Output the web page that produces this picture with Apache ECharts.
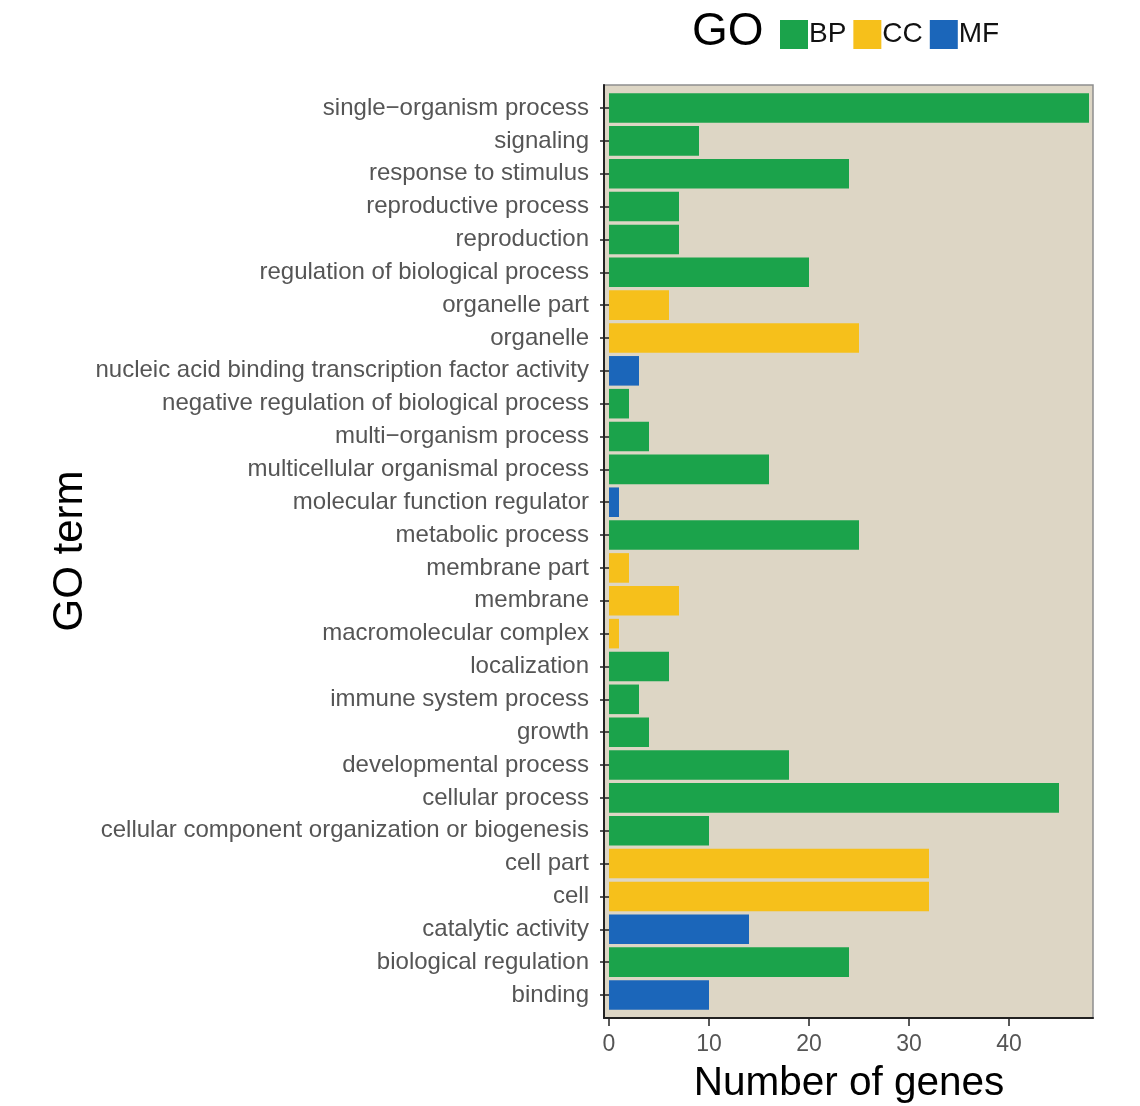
<!DOCTYPE html>
<html>
<head>
<meta charset="utf-8">
<script src="https://cdn.jsdelivr.net/npm/echarts@6/dist/echarts.min.js"></script>
<style>
  html, body { margin: 0; padding: 0; background: #ffffff; }
  #chart { width: 1140px; height: 1106px; }
</style>
</head>
<body>
<div id="chart"></div>
<script>
// GO terms listed top to bottom as they appear on the chart
const terms = [
  'single\u2212organism process',
  'signaling',
  'response to stimulus',
  'reproductive process',
  'reproduction',
  'regulation of biological process',
  'organelle part',
  'organelle',
  'nucleic acid binding transcription factor activity',
  'negative regulation of biological process',
  'multi\u2212organism process',
  'multicellular organismal process',
  'molecular function regulator',
  'metabolic process',
  'membrane part',
  'membrane',
  'macromolecular complex',
  'localization',
  'immune system process',
  'growth',
  'developmental process',
  'cellular process',
  'cellular component organization or biogenesis',
  'cell part',
  'cell',
  'catalytic activity',
  'biological regulation',
  'binding'
];

// Number of genes per term
const geneCounts = [48, 9, 24, 7, 7, 20, 6, 25, 3, 2, 4, 16, 1, 25, 2, 7, 1, 6, 3, 4, 18, 45, 10, 32, 32, 14, 24, 10];

// GO category of each term
const termGroups = ['BP', 'BP', 'BP', 'BP', 'BP', 'BP', 'CC', 'CC', 'MF', 'BP', 'BP', 'BP', 'MF', 'BP',
                    'CC', 'CC', 'CC', 'BP', 'BP', 'BP', 'BP', 'BP', 'BP', 'CC', 'CC', 'MF', 'BP', 'MF'];

const groups = ['BP', 'CC', 'MF'];
const groupColors = { BP: '#1ba34b', CC: '#f6c01b', MF: '#1b66ba' };

// x axis tick values
const xTicks = [0, 10, 20, 30, 40];

const labelFont = 'Liberation Sans, Arial, Helvetica, sans-serif';

const series = groups.map(g => ({
  name: g,
  type: 'bar',
  stack: 'go',
  xAxisIndex: 1,
  yAxisIndex: 1,
  barWidth: '90%',
  itemStyle: { color: groupColors[g] },
  data: geneCounts.map((v, i) => termGroups[i] === g ? v : null)
}));

const chart = echarts.init(document.getElementById('chart'), null, { renderer: 'canvas' });

chart.setOption({
  animation: false,
  backgroundColor: '#ffffff',
  textStyle: { fontFamily: labelFont },
  grid: [
    // panel
    { left: 604, top: 85, width: 489, height: 933, show: true,
      backgroundColor: '#ddd6c5', borderColor: '#8e8e8e', borderWidth: 1.5 },
    // bars
    { left: 609, top: 91.6, width: 484, height: 919.8 }
  ],
  xAxis: [
    { gridIndex: 0, type: 'value', min: 0, max: 1,
      axisLine: { show: true, onZero: false, lineStyle: { color: '#222', width: 2 } },
      axisTick: { show: false }, axisLabel: { show: false }, splitLine: { show: false } },
    { gridIndex: 1, type: 'value', min: 0, max: 48.4, offset: 6.6,
      axisLine: { show: false },
      axisTick: { show: true, length: 8, customValues: xTicks, lineStyle: { color: '#222', width: 1.5 } },
      axisLabel: { show: true, customValues: xTicks, fontSize: 23, color: '#555', margin: 15,
                   fontFamily: labelFont },
      splitLine: { show: false } }
  ],
  yAxis: [
    { gridIndex: 0, type: 'value', min: 0, max: 1,
      axisLine: { show: true, onZero: false, lineStyle: { color: '#222', width: 2 } },
      axisTick: { show: false }, axisLabel: { show: false }, splitLine: { show: false } },
    { gridIndex: 1, type: 'category', data: terms, inverse: true, offset: 5,
      axisLine: { show: false },
      axisTick: { show: true, alignWithLabel: true, length: 9, lineStyle: { color: '#222', width: 1.5 } },
      axisLabel: { fontSize: 24, color: '#555', margin: 15, fontFamily: labelFont, interval: 0 },
      splitLine: { show: false } }
  ],
  legend: {
    data: groups,
    left: 775, top: 15,
    icon: 'rect',
    itemWidth: 28, itemHeight: 29, itemGap: 7,
    textStyle: { fontSize: 28, color: '#111', padding: [0, 0, 0, -4], fontFamily: labelFont }
  },
  graphic: [
    { type: 'text', left: 692, top: 9,
      style: { text: 'GO', fill: '#000', font: '46px ' + labelFont } },
    { type: 'text', x: 70, y: 551, rotation: Math.PI / 2,
      style: { text: 'GO term', fill: '#000', font: '42px ' + labelFont, align: 'center', verticalAlign: 'middle' } },
    { type: 'text', x: 849, y: 1084,
      style: { text: 'Number of genes', fill: '#000', font: '40.5px ' + labelFont, align: 'center', verticalAlign: 'middle' } }
  ],
  series: series
});
</script>
</body>
</html>
